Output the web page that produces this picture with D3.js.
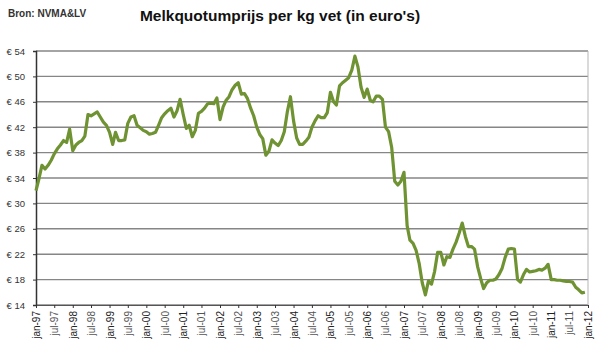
<!DOCTYPE html>
<html>
<head>
<meta charset="utf-8">
<script src="https://cdn.jsdelivr.net/npm/d3@7"></script>
<style>
  body { margin: 0; background: #fff; }
  #graph { width: 600px; height: 352px; }
  text { font-family: Arial, "Liberation Sans", sans-serif; }
</style>
</head>
<body>
<div id="graph"></div>
<script>
// monthly price, jan-97 .. dec-11 (euro per kg vet)
const startYear = 1997
const prices = [
  32.0, 34.0, 36.0, 35.4, 36.0, 36.8, 37.8, 38.6, 39.2, 39.9, 39.6, 41.7,
  38.3, 39.2, 39.6, 39.9, 40.6, 44.0, 43.8, 44.1, 44.4, 43.6, 42.8, 42.3,
  41.2, 39.3, 41.2, 39.9, 39.9, 40.0, 42.6, 43.6, 43.8, 42.3, 41.9, 41.5,
  41.3, 40.9, 41.0, 41.2, 42.3, 43.5, 44.1, 44.6, 45.0, 43.6, 44.6, 46.4,
  44.0, 41.8, 42.3, 40.5, 41.5, 44.2, 44.5, 45.0, 45.7, 45.8, 45.7, 46.6,
  43.2, 45.2, 46.2, 46.8, 47.9, 48.6, 49.0, 47.2, 47.3, 46.5, 45.0, 43.8,
  42.0, 40.8, 40.2, 37.6, 38.2, 40.0, 39.5, 39.1, 39.9, 41.3, 44.5, 46.8,
  43.0, 40.3, 39.3, 39.3, 39.8, 40.4, 42.0, 43.0, 43.8, 43.5, 43.5, 44.3,
  47.5, 46.0, 45.5, 48.5, 49.0, 49.4, 49.8, 51.0, 53.2, 51.5, 48.3, 46.7,
  48.0, 46.2, 46.0, 46.9, 46.9, 46.4, 42.0, 41.3, 38.8, 33.5, 32.9, 33.5,
  34.9, 26.5, 24.2, 23.7, 22.6, 20.5, 17.5, 15.6, 17.8, 17.3, 19.3, 22.3,
  22.3, 20.3, 21.6, 21.5, 22.8, 23.9, 25.3, 26.9, 24.8, 23.2, 23.2, 22.8,
  20.0, 18.1, 16.6, 17.5, 17.9, 17.9, 18.1, 18.8, 19.8, 21.5, 22.8, 22.9,
  22.8, 18.0, 17.6, 18.8, 19.6, 19.2, 19.3, 19.4, 19.6, 19.5, 19.8, 20.4,
  18.0, 18.0, 17.9, 17.9, 17.8, 17.7, 17.7, 17.6, 16.8, 16.4, 15.9, 16.0
]
const yTicks = [14, 18, 22, 26, 30, 34, 38, 42, 46, 50, 54]
const monthNames = ["jan", "jul"]

const width = 600, height = 352
const margin = { top: 51, right: 12, bottom: 47, left: 36 }
const gWidth = width - margin.left - margin.right
const gHeight = height - margin.top - margin.bottom

const svg = d3.select('#graph').append('svg').attr('width', width).attr('height', height)

// source + title
svg.append('text').attr('x', 8).attr('y', 17)
  .style('font-size', '10px').style('font-weight', 'bold').style('fill', '#333')
  .text('Bron: NVMA&LV')
svg.append('text').attr('x', 280).attr('y', 21)
  .style('font-size', '15.5px').style('font-weight', 'bold').style('fill', '#111')
  .style('text-anchor', 'middle')
  .text("Melkquotumprijs per kg vet (in euro's)")

const graph = svg.append('g').attr('transform', `translate(${margin.left}, ${margin.top})`)

const data = prices.map((v, i) => ({ date: new Date(startYear, i, 1), value: v }))

const xScale = d3.scaleTime()
  .domain([new Date(startYear, 0, 1), new Date(2012, 0, 1)])
  .range([0, gWidth])
const yScale = d3.scaleLinear().domain([14, 54]).range([gHeight, 0])

// gridlines
graph.append('g').selectAll('line').data(yTicks).enter().append('line')
  .attr('x1', 0).attr('x2', gWidth)
  .attr('y1', d => yScale(d)).attr('y2', d => yScale(d))
  .style('stroke', '#868686').style('stroke-width', 1.4)

// right border
graph.append('line').attr('x1', gWidth).attr('x2', gWidth).attr('y1', 0).attr('y2', gHeight)
  .style('stroke', '#b5b5b5').style('stroke-width', 1)

// y axis
const yAxis = graph.append('g').attr('class', 'axis')
  .call(d3.axisLeft(yScale).tickValues(yTicks).tickSize(3).tickPadding(8).tickFormat(d => '€ ' + d))
yAxis.select('.domain').style('stroke', '#333').style('stroke-width', 1.5)
yAxis.selectAll('.tick line').style('stroke', '#333')
yAxis.selectAll('text').style('font-size', '9.5px').style('fill', '#333')

// x axis, a tick every half year
const xTicks = d3.timeMonth.every(6).range(new Date(startYear, 0, 1), new Date(2012, 0, 2))
const xAxis = graph.append('g').attr('class', 'axis')
  .attr('transform', `translate(0, ${gHeight})`)
  .call(d3.axisBottom(xScale).tickValues(xTicks).tickSize(3).tickSizeOuter(0)
    .tickFormat(d => monthNames[d.getMonth() / 6] + '-' + String(d.getFullYear()).slice(2)))
xAxis.select('.domain').style('stroke', '#555').style('stroke-width', 1.2)
xAxis.selectAll('.tick line').style('stroke', '#333')
xAxis.selectAll('text')
  .style('font-size', '10px')
  .style('fill', d => d.getMonth() == 0 ? '#222' : '#555')
  .style('text-anchor', 'end')
  .attr('transform', 'rotate(-90)')
  .attr('x', -6).attr('y', 0).attr('dy', '0.35em')

// price line
const line = d3.line().x(d => xScale(d.date)).y(d => yScale(d.value))
graph.append('path').datum(data)
  .attr('d', line)
  .style('fill', 'none')
  .style('stroke', '#6f9232')
  .style('stroke-width', 3.2)
  .style('stroke-linejoin', 'round')
</script>
</body>
</html>
